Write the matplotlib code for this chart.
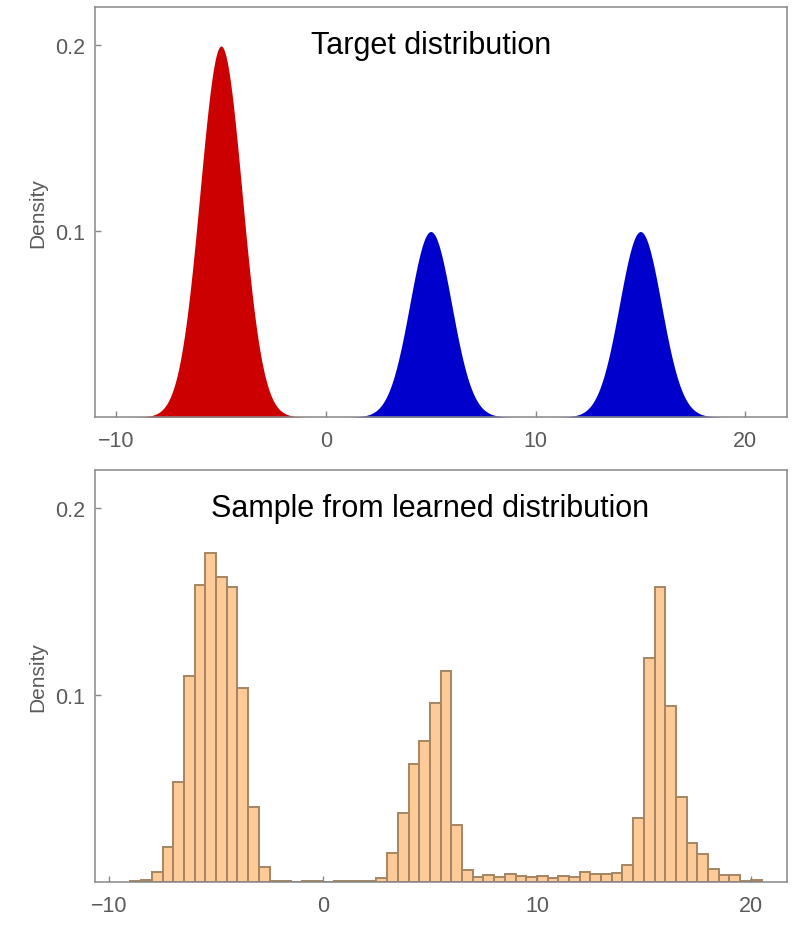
import numpy as np
import matplotlib.pyplot as plt

plt.rcParams['font.family'] = ['Liberation Sans', 'DejaVu Sans']

# target mixture: one component per peak
peak_means = [-5, 5, 15]
peak_weights = [0.5, 0.25, 0.25]
peak_sigmas = [1.0, 1.0, 1.0]
peak_colors = ['#CC0000', '#0000CC', '#0000CC']

# histogram of the learned sample (bin width 0.5, density)
bin_width = 0.5
bin_left = np.arange(-9.0, 20.5, bin_width)
bin_density = [
    0.0005, 0.0012, 0.0053, 0.019, 0.0535, 0.110, 0.159, 0.176, 0.163, 0.158,
    0.104, 0.040, 0.008, 0.0006, 0.0006, 0.0, 0.0004, 0.0004, 0.0, 0.0004,
    0.0004, 0.0004, 0.0004, 0.0021, 0.0155, 0.037, 0.063, 0.0754, 0.0957, 0.113,
    0.0303, 0.0066, 0.0029, 0.0037, 0.0027, 0.0041, 0.003, 0.0027, 0.003, 0.0021,
    0.003, 0.0027, 0.0052, 0.0043, 0.0043, 0.005, 0.0089, 0.0344, 0.120, 0.158,
    0.094, 0.0455, 0.0209, 0.0152, 0.0068, 0.0036, 0.0036, 0.0004, 0.001,
]

x_ticks = [-10, 0, 10, 20]
y_ticks = [0.1, 0.2]
y_tick_labels = ['0.1', '0.2']

frame_col = '#888888'
label_col = '#5a5a5a'

fig = plt.figure(figsize=(8, 9.29), dpi=100)
ax1 = fig.add_axes([0.119, 0.550, 0.865, 0.4415])
ax2 = fig.add_axes([0.119, 0.0495, 0.865, 0.4435])


def style(ax):
    for s in ax.spines.values():
        s.set_color(frame_col)
        s.set_linewidth(1.1)
    ax.set_xticks(x_ticks)
    ax.set_yticks(y_ticks)
    ax.set_yticklabels(y_tick_labels)
    ax.tick_params(direction='in', length=4, width=1, color=frame_col,
                   labelcolor=label_col, labelsize=15.5, pad=7)
    ax.tick_params(axis='x', pad=9)
    ax.set_ylabel('Density', fontsize=15, color=label_col, labelpad=6)
    ax.set_ylim(0, 0.2205)


# Top: target distribution
xs = np.linspace(-11, 22, 3000)
for m, w, s, c in zip(peak_means, peak_weights, peak_sigmas, peak_colors):
    dens = w * np.exp(-0.5 * ((xs - m) / s) ** 2) / (s * np.sqrt(2 * np.pi))
    mask = np.abs(xs - m) < 5 * s
    ax1.fill_between(xs[mask], 0, dens[mask], color=c, linewidth=0)
ax1.set_xlim(-11, 22)
style(ax1)
ax1.text(5, 0.2, 'Target distribution', fontsize=22, ha='center', va='center')

# Bottom: histogram of samples
ax2.bar(bin_left, bin_density, width=bin_width, align='edge',
        color='#FDCA98', edgecolor='#A58563', linewidth=1.4)
ax2.set_xlim(-10.65, 21.7)
style(ax2)
ax2.text(5, 0.2, 'Sample from learned distribution', fontsize=22,
         ha='center', va='center')

fig.savefig('out.png', dpi=100)
